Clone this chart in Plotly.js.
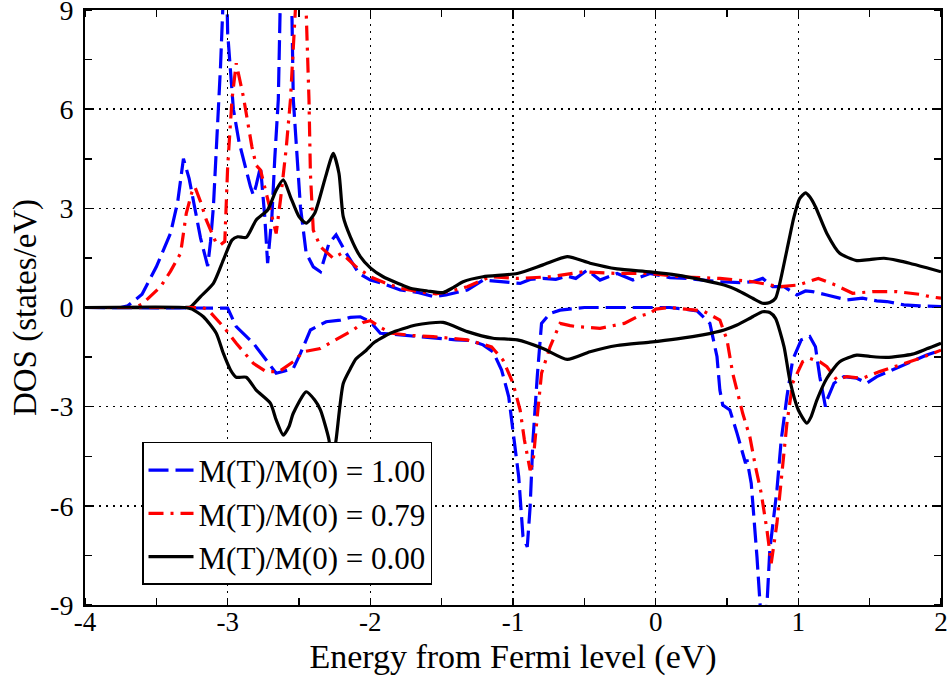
<!DOCTYPE html>
<html>
<head>
<meta charset="utf-8">
<script src="https://cdn.plot.ly/plotly-3.0.1.min.js"></script>
<style>html,body{margin:0;padding:0;background:#fff;}#chart{width:952px;height:676px;}</style>
</head>
<body>
<div id="chart"></div>
<script>
// ---- Data ----
const seriesNames = ["M(T)/M(0) = 1.00", "M(T)/M(0) = 0.79", "M(T)/M(0) = 0.00"];

// M(T)/M(0) = 1.00, majority (positive DOS)
const eUp100 = [-4.0,-3.75,-3.70,-3.60,-3.50,-3.40,-3.35,-3.31,-3.27,-3.24,-3.19,-3.14,-3.12,-3.10,-3.07,-3.05,-3.03,-3.01,-3.00,-2.96,-2.92,-2.89,-2.84,-2.82,-2.80,-2.77,-2.74,-2.72,-2.69,-2.67,-2.645,-2.63,-2.60,-2.56,-2.55,-2.54,-2.49,-2.45,-2.40,-2.35,-2.29,-2.24,-2.17,-2.08,-2.00,-1.93,-1.79,-1.66,-1.56,-1.47,-1.32,-1.21,-1.14,-1.07,-0.95,-0.88,-0.79,-0.70,-0.62,-0.56,-0.48,-0.39,-0.32,-0.27,-0.16,-0.04,0.10,0.22,0.35,0.45,0.60,0.68,0.75,0.82,0.90,0.99,1.05,1.10,1.20,1.28,1.34,1.45,1.55,1.62,1.74,1.85,2.00];
const dUp100 = [0,0,0.05,0.4,1.23,2.25,3.2,4.5,3.9,3.25,2.1,1.25,2.0,3.05,5.5,7.3,9.5,10.5,8.3,6.0,5.0,4.46,3.65,3.4,3.7,4.26,2.75,1.34,2.75,4.5,6.3,9.5,11,10,9,6.3,3.05,1.65,1.23,1.08,1.94,2.2,1.65,1.03,0.83,0.75,0.53,0.45,0.33,0.38,0.53,0.83,0.8,0.78,0.73,0.85,0.88,0.85,0.95,0.88,1.13,0.83,0.95,1.03,0.83,1.03,0.9,0.88,0.82,0.78,0.75,0.78,0.88,0.63,0.63,0.38,0.5,0.48,0.38,0.3,0.23,0.28,0.2,0.18,0.08,0.05,0.03];

// M(T)/M(0) = 0.79, majority
const eUp079 = [-4.0,-3.65,-3.60,-3.55,-3.47,-3.40,-3.33,-3.29,-3.25,-3.23,-3.19,-3.15,-3.08,-3.05,-3.02,-3.00,-2.97,-2.94,-2.89,-2.83,-2.80,-2.77,-2.73,-2.66,-2.63,-2.59,-2.56,-2.52,-2.50,-2.47,-2.45,-2.43,-2.42,-2.40,-2.35,-2.26,-2.20,-2.10,-2.00,-1.90,-1.79,-1.66,-1.54,-1.43,-1.32,-1.16,-0.97,-0.74,-0.51,-0.27,-0.04,0.20,0.45,0.68,0.87,1.00,1.14,1.26,1.38,1.52,1.69,1.85,1.92,2.00];
const dUp079 = [0,0,0.1,0.3,0.63,1.1,1.64,2.85,3.5,3.65,3.2,2.65,1.94,1.9,2.0,4.26,6.28,7.39,6.38,4.86,4.3,4.16,3.46,2.24,3.25,4.8,6.28,9,11,11,9,6.28,4.06,2.34,1.84,1.49,1.64,1.23,0.93,0.75,0.58,0.48,0.41,0.5,0.63,0.93,0.88,0.93,1.08,1.03,1.03,0.92,0.88,0.78,0.63,0.68,0.88,0.68,0.43,0.48,0.48,0.4,0.33,0.28];

// M(T)/M(0) = 0.00, majority
const eUp000 = [-4.0,-3.30,-3.26,-3.19,-3.10,-3.03,-2.97,-2.93,-2.87,-2.80,-2.72,-2.66,-2.61,-2.56,-2.50,-2.45,-2.39,-2.32,-2.26,-2.22,-2.19,-2.14,-2.07,-2.00,-1.91,-1.80,-1.72,-1.60,-1.49,-1.42,-1.35,-1.21,-0.97,-0.79,-0.62,-0.46,-0.27,-0.04,0.15,0.33,0.48,0.57,0.68,0.75,0.80,0.84,0.87,0.92,0.97,1.01,1.05,1.08,1.12,1.20,1.29,1.41,1.50,1.60,1.70,1.78,1.90,2.00];
const dUp000 = [0,0,0.02,0.33,0.73,1.44,2.04,2.14,2.12,2.65,2.95,3.55,3.86,3.35,2.75,2.55,2.85,3.86,4.66,4.06,2.75,2.14,1.54,1.2,0.93,0.72,0.58,0.5,0.45,0.6,0.78,0.93,1.03,1.29,1.54,1.34,1.17,1.08,0.98,0.83,0.68,0.53,0.28,0.13,0.15,0.28,0.73,1.74,2.75,3.3,3.47,3.35,3.05,2.24,1.64,1.42,1.45,1.49,1.42,1.34,1.2,1.08];

// M(T)/M(0) = 1.00, minority (negative DOS)
const eDn100 = [-4.0,-3.10,-3.00,-2.94,-2.82,-2.73,-2.66,-2.60,-2.54,-2.49,-2.42,-2.31,-2.21,-2.14,-2.07,-2.00,-1.93,-1.79,-1.66,-1.56,-1.40,-1.30,-1.21,-1.14,-1.08,-1.03,-1.00,-0.96,-0.93,-0.90,-0.88,-0.86,-0.83,-0.80,-0.74,-0.67,-0.50,0.10,0.29,0.38,0.43,0.45,0.47,0.52,0.57,0.63,0.64,0.67,0.71,0.73,0.755,0.78,0.80,0.85,0.88,0.92,0.96,1.02,1.08,1.12,1.15,1.19,1.20,1.25,1.32,1.41,1.48,1.55,1.69,1.80,1.90,2.00];
const dDn100 = [0,0,-0.02,-0.58,-1.08,-1.59,-1.99,-1.92,-1.84,-1.39,-0.68,-0.43,-0.38,-0.3,-0.28,-0.43,-0.78,-0.83,-0.88,-0.93,-0.98,-1.0,-1.13,-1.34,-1.89,-2.7,-3.7,-5.12,-6.93,-7.24,-6.03,-4.01,-2.09,-0.48,-0.18,-0.08,0,0,-0.1,-0.48,-1.49,-2.5,-2.95,-3.1,-3.8,-4.71,-4.6,-5.32,-7.54,-9.0,-10.5,-9.0,-7.34,-5.52,-4.01,-2.7,-1.59,-0.98,-0.88,-1.19,-2.09,-3.0,-2.8,-2.29,-2.09,-2.14,-2.29,-2.09,-1.84,-1.64,-1.44,-1.29];

// M(T)/M(0) = 0.79, minority
const eDn079 = [-4.0,-3.18,-3.14,-3.03,-2.94,-2.82,-2.73,-2.64,-2.54,-2.47,-2.35,-2.24,-2.12,-2.05,-2.00,-1.93,-1.85,-1.70,-1.56,-1.32,-1.15,-1.07,-1.00,-0.95,-0.92,-0.88,-0.86,-0.83,-0.80,-0.74,-0.67,-0.60,-0.55,-0.39,-0.22,-0.13,-0.04,0.00,0.10,0.33,0.45,0.50,0.54,0.61,0.66,0.70,0.74,0.78,0.81,0.85,0.88,0.92,0.96,1.03,1.08,1.15,1.20,1.27,1.34,1.45,1.57,1.71,1.85,2.00];
const dDn079 = [0,0,-0.06,-0.58,-1.08,-1.69,-1.94,-1.94,-1.64,-1.34,-1.24,-0.98,-0.68,-0.45,-0.4,-0.6,-0.78,-0.85,-0.88,-0.98,-1.19,-1.59,-2.29,-3.1,-4.01,-4.92,-4.7,-3.3,-1.99,-1.19,-0.48,-0.55,-0.58,-0.63,-0.48,-0.28,-0.18,-0.05,0,-0.1,-0.38,-0.98,-1.99,-3.2,-3.91,-4.82,-5.62,-6.73,-7.74,-6.53,-5.12,-3.5,-2.29,-1.64,-1.54,-1.64,-1.79,-2.19,-2.09,-2.14,-1.94,-1.74,-1.54,-1.29];

// M(T)/M(0) = 0.00, minority
const eDn000 = [-4.0,-3.30,-3.25,-3.17,-3.08,-3.03,-2.98,-2.94,-2.87,-2.80,-2.70,-2.66,-2.61,-2.57,-2.54,-2.45,-2.39,-2.35,-2.29,-2.27,-2.24,-2.19,-2.14,-2.10,-2.03,-1.98,-1.86,-1.68,-1.49,-1.32,-1.14,-0.97,-0.79,-0.62,-0.46,-0.27,-0.04,0.15,0.33,0.48,0.57,0.68,0.75,0.80,0.84,0.90,0.94,1.00,1.06,1.09,1.13,1.20,1.29,1.41,1.50,1.62,1.80,1.90,2.00];
const dDn000 = [0,0,-0.05,-0.28,-0.78,-1.39,-1.89,-2.11,-2.11,-2.5,-2.9,-3.4,-3.86,-3.6,-3.2,-2.55,-2.8,-3.1,-4.0,-4.8,-4.0,-2.3,-1.85,-1.55,-1.3,-1.08,-0.78,-0.53,-0.45,-0.73,-0.93,-0.98,-1.24,-1.57,-1.34,-1.15,-1.05,-0.95,-0.83,-0.68,-0.53,-0.28,-0.13,-0.15,-0.33,-1.19,-2.19,-3.1,-3.5,-3.3,-2.8,-2.14,-1.64,-1.44,-1.48,-1.51,-1.41,-1.25,-1.08];

// Tick labels
const xTickVals = [-4,-3,-2,-1,0,1,2];
const xTickText = ["-4","-3","-2","-1","0","1","2"];
const yTickVals = [-9,-6,-3,0,3,6,9];
const yTickText = ["-9","-6","-3","0","3","6","9"];

// ---- Styles ----
const colors = ["#0000ff", "#ff0000", "#000000"];
const dashes = ["20px,7px", "15px,7px,3px,7px", "solid"];
const shapes = ["linear", "linear", "spline"];
const serif = "Liberation Serif";

const upX = [eUp100, eUp079, eUp000], upY = [dUp100, dUp079, dUp000];
const dnX = [eDn100, eDn079, eDn000], dnY = [dDn100, dDn079, dDn000];

const traces = [];
for (let i = 0; i < 3; i++) {
  traces.push({
    x: upX[i], y: upY[i], type: "scatter", mode: "lines",
    name: seriesNames[i], showlegend: true,
    line: {color: colors[i], width: 3.2, dash: dashes[i], shape: shapes[i], smoothing: 0.6}
  });
}
for (let i = 0; i < 3; i++) {
  traces.push({
    x: dnX[i], y: dnY[i], type: "scatter", mode: "lines",
    name: seriesNames[i], showlegend: false,
    line: {color: colors[i], width: 3.2, dash: dashes[i], shape: shapes[i], smoothing: 0.6}
  });
}

const axisCommon = {
  showline: true, linecolor: "#000", linewidth: 2, mirror: "allticks",
  showgrid: true, gridcolor: "#000", gridwidth: 1.5, griddash: "2px,5px",
  zeroline: false, ticks: "", tickmode: "array",
  ticklabeloverflow: "allow"
};

const layout = {
  width: 952, height: 676,
  margin: {l: 85, r: 11, t: 10, b: 71},
  paper_bgcolor: "#fff", plot_bgcolor: "#fff",
  font: {family: serif, color: "#000"},
  xaxis: Object.assign({}, axisCommon, {
    range: [-4, 2], tickvals: xTickVals, ticktext: xTickText,
    tickfont: {family: serif, size: 27, color: "#000"},
    ticklabelstandoff: -8,
    minor: {dtick: 0.5, ticks: "inside", ticklen: 7, tickwidth: 1.5, tickcolor: "#000", showgrid: false},
    title: {text: "Energy from Fermi level (eV)", font: {family: serif, size: 34, color: "#000"}, standoff: 10}
  }),
  yaxis: Object.assign({}, axisCommon, {
    range: [-9, 9], tickvals: yTickVals, ticktext: yTickText,
    tickfont: {family: serif, size: 28, color: "#000"},
    ticklabelstandoff: 4,
    minor: {dtick: 1.5, ticks: "inside", ticklen: 7, tickwidth: 1.5, tickcolor: "#000", showgrid: false},
    title: {text: "DOS (states/eV)", font: {family: serif, size: 33, color: "#000"}, standoff: 4}
  }),
  legend: {
    x: 0.0666, y: 0.274, xanchor: "left", yanchor: "top",
    bgcolor: "#fff", bordercolor: "#000", borderwidth: 1.5,
    font: {family: serif, size: 31, color: "#000"},
    itemwidth: 45, traceorder: "normal"
  },
  showlegend: true
};

Plotly.newPlot("chart", traces, layout, {displayModeBar: false, staticPlot: true});
</script>
</body>
</html>
